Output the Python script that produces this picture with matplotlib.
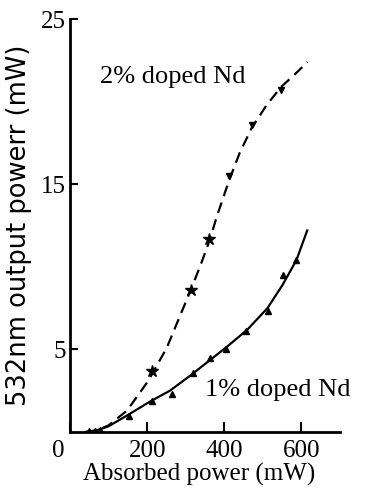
import numpy as np
import matplotlib.pyplot as plt

plt.rcParams['font.family'] = ['Liberation Serif', 'DejaVu Serif']

# curves (absorbed power mW, output mW)
curve2_x = [40, 70, 100, 148, 203, 251, 290, 315, 340, 362, 380, 412, 440, 471, 510, 548, 585, 616]
curve2_y = [0, 0.1, 0.4, 1.3, 3.1, 5.1, 7.3, 8.7, 10.2, 11.6, 13.0, 15.2, 16.9, 18.4, 19.8, 20.9, 21.7, 22.4]
curve1_x = [40, 70, 100, 148, 208, 259, 311, 360, 409, 460, 512, 551, 587, 615]
curve1_y = [0, 0.1, 0.35, 1.0, 1.85, 2.5, 3.4, 4.3, 5.2, 6.2, 7.5, 8.9, 10.4, 12.2]

# measured points
pts2_x = [213, 313, 360, 412, 471, 548]
pts2_y = [3.7, 8.6, 11.7, 15.5, 18.6, 20.7]
pts1_x = [50, 65, 79, 152, 212, 264, 319, 362, 405, 457, 513, 552, 586]
pts1_y = [0.05, 0.05, 0.1, 0.95, 1.85, 2.3, 3.55, 4.45, 5.05, 6.1, 7.3, 9.5, 10.4]

xticks = [0, 200, 400, 600]
xticklabels = ['0', '200', '400', '600']
yticks = [5, 15, 25]

fig = plt.figure(figsize=(3.69, 4.93), dpi=100)
ax = fig.add_axes([70/369, 61/493, 270/369, 413/493])

ax.plot(curve2_x, curve2_y, color='black', lw=1.6, linestyle=(0, (5, 3)))
ax.plot(curve1_x, curve1_y, color='black', lw=1.6)
ax.plot(pts2_x[:3], pts2_y[:3], linestyle='none', marker='*', ms=9, color='black')
ax.plot(pts2_x[3:], pts2_y[3:], linestyle='none', marker='v', ms=5, color='black')
ax.plot(pts1_x, pts1_y, linestyle='none', marker='^', ms=4, color='black')

ax.set_xlim(0, 700)
ax.set_ylim(0, 25)
ax.spines['top'].set_visible(False)
ax.spines['right'].set_visible(False)
ax.spines['left'].set_linewidth(2)
ax.spines['bottom'].set_linewidth(2)

ax.set_xticks(xticks)
ax.set_xticklabels([])
ax.set_yticks(yticks)
ax.tick_params(axis='x', direction='in', length=7, width=1.5)
ax.tick_params(axis='y', direction='in', length=6, width=1.5, pad=3, labelsize=18)

# x tick labels placed as figure text under each tick ("0" a bit left of origin)
fig.canvas.draw()
to_fig = fig.transFigure.inverted()
for xt, lab in zip(xticks, xticklabels):
    px, py = ax.transData.transform((xt, 0))
    if xt == 0:
        px -= 12
    fx, fy = to_fig.transform((px, py - 8))
    fig.text(fx, fy, lab, fontsize=18, ha='center', va='top')

ax.set_xlabel('Absorbed power (mW)', fontsize=18)
ax.xaxis.set_label_coords(0.48, -0.075)
ax.set_ylabel('532nm output powerr (mW)', fontsize=18.5, family=['DejaVu Sans'], labelpad=6)

ax.text(79, 21.1, '2% doped Nd', fontsize=19)
ax.text(350, 2.2, '1% doped Nd', fontsize=19)

fig.savefig('out.png', dpi=100)
